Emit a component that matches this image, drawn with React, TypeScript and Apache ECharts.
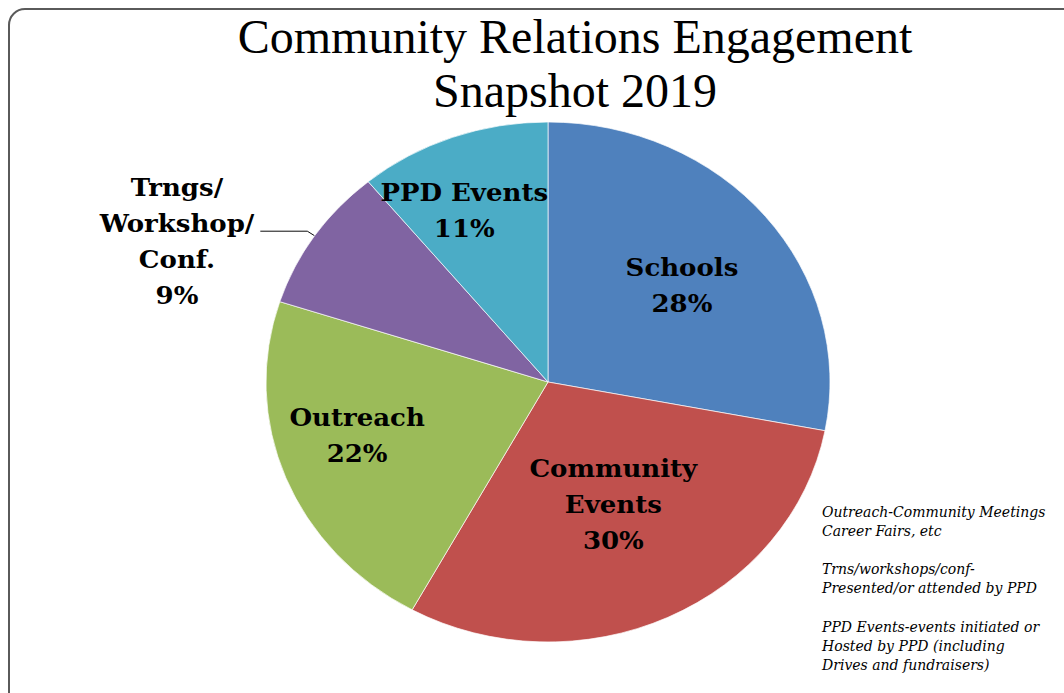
import React, { useEffect, useRef } from "react";
import * as echarts from "echarts";

// ---- data ----
const categories = ["Schools", "Community Events", "Outreach", "Trngs/Workshop/Conf.", "PPD Events"];
const labelLines = [["Schools"], ["Community", "Events"], ["Outreach"], ["Trngs/", "Workshop/", "Conf."], ["PPD Events"]];
const values = [28, 30, 22, 9, 11];
const colors = ["#4F81BD", "#C0504D", "#9BBB59", "#8064A2", "#4BACC6"];
const titleLines = ["Community Relations Engagement", "Snapshot 2019"];
const noteLines = [
  "Outreach-Community Meetings",
  "Career Fairs, etc",
  "",
  "Trns/workshops/conf-",
  "Presented/or attended by PPD",
  "",
  "PPD Events-events initiated or",
  "Hosted by PPD (including",
  "Drives and fundraisers)",
];

// ---- layout / style ----
const W = 1064;
const H = 693;
const CX = 548;
const CY = 382;
const RX = 282;
const RY = 260;
const SY = RY / RX;
// label offsets (layer px) for inside labels
const labelShift: Array<[number, number] | null> = [[23, -12], [4, 3], [-57, 5], null, [-35, -50]];
const labelFont = "'DejaVu Serif', serif";

export default function App() {
  const bgRef = useRef<HTMLDivElement>(null);
  const pieRef = useRef<HTMLDivElement>(null);

  useEffect(() => {
    document.body.style.margin = "0";
    const bg = echarts.init(bgRef.current!, null, { renderer: "svg" });
    const pie = echarts.init(pieRef.current!, null, { renderer: "svg" });

    bg.setOption({
      animation: false,
      graphic: [
        {
          type: "rect",
          shape: { x: 9, y: 9, width: 1090, height: 710, r: 16 },
          style: { fill: "none", stroke: "#5a5a5a", lineWidth: 2 },
        },
        ...titleLines.map((t, i) => ({
          type: "text",
          x: 575,
          y: 36 + i * 54,
          style: {
            text: t,
            fill: "#000",
            fontFamily: "'Liberation Serif', serif",
            fontSize: 48,
            lineHeight: 46,
            align: "center",
            textAlign: "center",
            verticalAlign: "middle",
            textVerticalAlign: "middle",
          },
        })),
        {
          type: "text",
          x: 822,
          y: 502,
          style: {
            text: noteLines.join("\n"),
            fill: "#000",
            fontFamily: "'DejaVu Serif', serif",
            fontStyle: "italic",
            fontSize: 14,
            lineHeight: 19.2,
            align: "left",
            textAlign: "left",
            verticalAlign: "top",
            textVerticalAlign: "top",
          },
        },
      ],
    });

    pie.setOption({
      animation: false,
      color: colors,
      series: [
        {
          type: "pie",
          center: [CX, CY],
          radius: [0, RX],
          startAngle: 90,
          clockwise: true,
          avoidLabelOverlap: false,
          itemStyle: { borderColor: "rgba(255,255,255,0.7)", borderWidth: 1 },
          label: {
            show: true,
            position: "inside",
            formatter: (p: any) =>
              labelLines[p.dataIndex]
                .concat(Math.round(p.percent) + "%")
                .map((l) => `{c|${l}}`)
                .join("\n"),
            rich: {
              c: {
                fontFamily: labelFont,
                fontWeight: "bold",
                fontSize: 26,
                lineHeight: 39,
                color: "#000",
                align: "center",
              },
            },
          },
          labelLine: { show: false },
          labelLayout: (params: any) => {
            const s = labelShift[params.dataIndex];
            return s ? { dx: s[0], dy: s[1] } : {};
          },
          emphasis: { disabled: true },
          data: categories.map((c, i) => ({
            name: c,
            value: values[i],
            ...(i === 3
              ? {
                  label: {
                    position: "outside",
                    distanceToLabelLine: 6,
                    padding: [24, 0, 0, 0],
                  },
                  labelLine: {
                    show: true,
                    length: 9,
                    length2: 47,
                    lineStyle: { color: "#000", width: 1 },
                  },
                }
              : {}),
          })),
        },
      ],
    });

    return () => {
      bg.dispose();
      pie.dispose();
    };
  }, []);

  return (
    <div style={{ position: "relative", width: W, height: H, overflow: "hidden", background: "#fff" }}>
      <div ref={bgRef} style={{ position: "absolute", left: 0, top: 0, width: W, height: H }} />
      <div
        ref={pieRef}
        style={{
          position: "absolute",
          left: 0,
          top: 0,
          width: W,
          height: H,
          transform: `scaleY(${SY})`,
          transformOrigin: `${CX}px ${CY}px`,
        }}
      />
    </div>
  );
}
